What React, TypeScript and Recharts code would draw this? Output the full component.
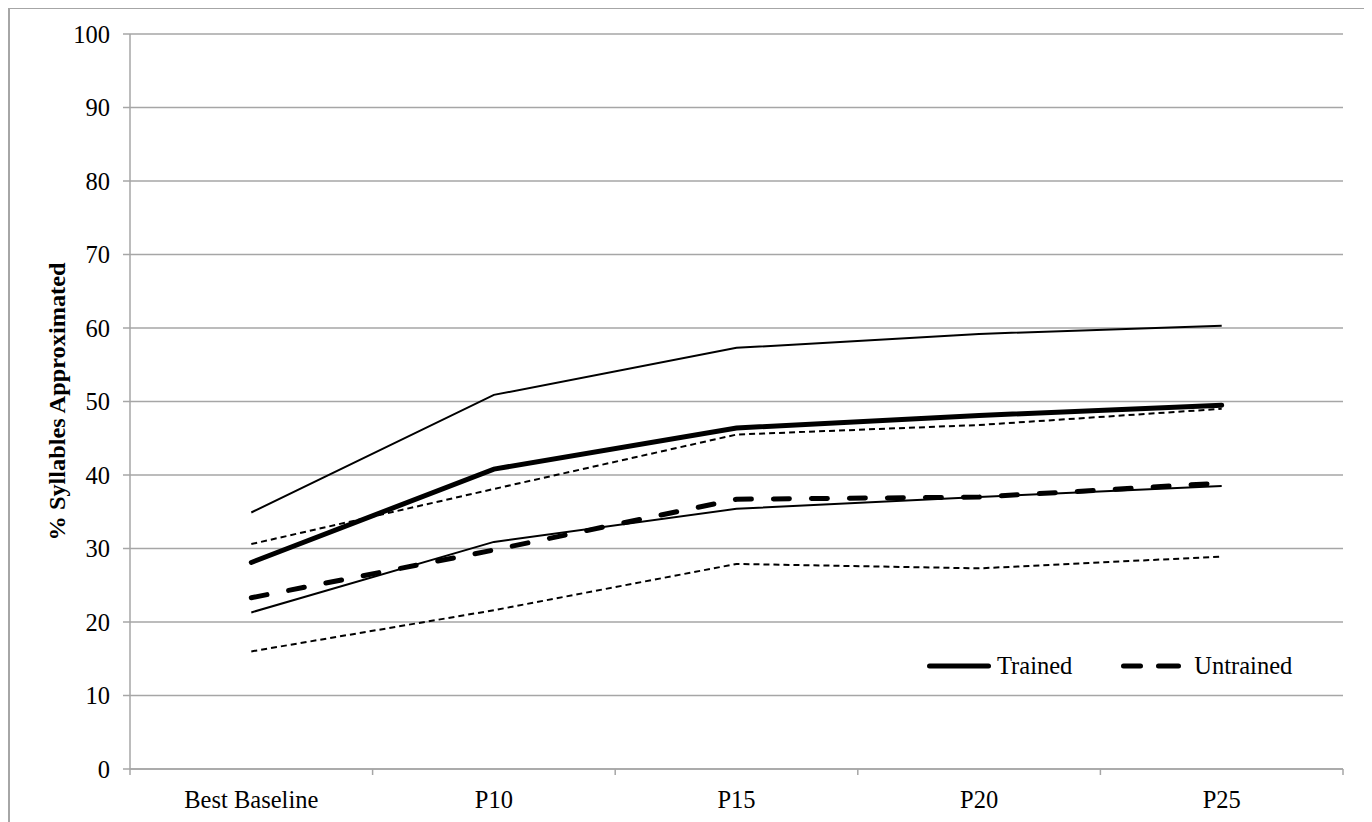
import {
  ComposedChart,
  Line,
  XAxis,
  YAxis,
  CartesianGrid,
  Legend,
} from "recharts";

const categories = ["Best Baseline", "P10", "P15", "P20", "P25"];
const trainedMean = [28.1, 40.8, 46.4, 48.1, 49.5];
const trainedUpper = [34.9, 50.9, 57.3, 59.2, 60.3];
const trainedLower = [21.3, 30.9, 35.4, 37.0, 38.5];
const untrainedMean = [23.3, 29.8, 36.7, 37.0, 38.9];
const untrainedUpper = [30.6, 38.1, 45.5, 46.8, 49.0];
const untrainedLower = [16.0, 21.6, 27.9, 27.3, 28.9];
const yTicks = [0, 10, 20, 30, 40, 50, 60, 70, 80, 90, 100];

const data = categories.map((name, i) => ({
  name,
  trainedMean: trainedMean[i],
  trainedUpper: trainedUpper[i],
  trainedLower: trainedLower[i],
  untrainedMean: untrainedMean[i],
  untrainedUpper: untrainedUpper[i],
  untrainedLower: untrainedLower[i],
}));

const FONT = "'Liberation Serif', 'Times New Roman', serif";
const GRID = "#a6a6a6";
const FS = 24.5;

// chart box
const W = 1357;
const H = 813;
const margin = { top: 25, right: 24, bottom: 0, left: 0 };
const Y_AXIS_W = 120;
const X_AXIS_H = 53;
const PLOT_W = W - margin.left - margin.right - Y_AXIS_W;
const HALF_BAND = PLOT_W / categories.length / 2;
const X_LABEL_GAP = 22;

// category label plus the tick marks at the band edges
function XTick(props: any) {
  const { x, y, payload, index } = props;
  const axisY = y - X_LABEL_GAP;
  return (
    <g>
      <line x1={x - HALF_BAND} x2={x - HALF_BAND} y1={axisY} y2={axisY + 6} stroke={GRID} strokeWidth={1.5} />
      {index === categories.length - 1 && (
        <line x1={x + HALF_BAND} x2={x + HALF_BAND} y1={axisY} y2={axisY + 6} stroke={GRID} strokeWidth={1.5} />
      )}
      <text x={x} y={y} dy="0.71em" textAnchor="middle" style={{ fontSize: FS, fontFamily: FONT }} fill="#000">
        {payload.value}
      </text>
    </g>
  );
}

function YTick(props: any) {
  const { x, y, payload } = props;
  return (
    <text x={x} y={y} dy="0.35em" textAnchor="end" style={{ fontSize: FS, fontFamily: FONT }} fill="#000">
      {payload.value}
    </text>
  );
}

function YLabel(props: any) {
  const { viewBox } = props;
  const cx = viewBox.x + 47;
  const cy = viewBox.y + viewBox.height / 2;
  return (
    <text
      x={cx}
      y={cy}
      transform={`rotate(-90 ${cx} ${cy})`}
      textAnchor="middle"
      dominantBaseline="central"
      style={{ fontSize: 23, fontWeight: "bold", fontFamily: FONT }}
      textLength={278}
      lengthAdjust="spacingAndGlyphs"
      fill="#000"
    >
      % Syllables Approximated
    </text>
  );
}

function LegendContent() {
  return (
    <div style={{ display: "flex", alignItems: "center", fontFamily: FONT, fontSize: FS, color: "#000" }}>
      <svg width={64} height={10}>
        <line x1={2.5} x2={61.5} y1={5} y2={5} stroke="#000" strokeWidth={5} strokeLinecap="round" />
      </svg>
      <span style={{ marginLeft: 6 }}>Trained</span>
      <svg width={62} height={10} style={{ marginLeft: 49 }}>
        <line x1={2.5} x2={59.5} y1={5} y2={5} stroke="#000" strokeWidth={5} strokeLinecap="round" strokeDasharray="17 18 20 18" />
      </svg>
      <span style={{ marginLeft: 11 }}>Untrained</span>
    </div>
  );
}

export default function App() {
  return (
    <div
      style={{
        position: "relative",
        marginTop: -1,
        width: W + 4,
        height: H + 2,
        border: `2px solid ${GRID}`,
        borderBottom: "none",
        boxSizing: "border-box",
        background: "#fff",
        fontFamily: FONT,
      }}
    >
      <style>{"body{overflow:hidden}"}</style>
      <ComposedChart width={W} height={H} data={data} margin={margin} style={{ fontFamily: FONT }}>
        <CartesianGrid vertical={false} stroke={GRID} strokeWidth={1.5} />
        <XAxis
          dataKey="name"
          scale="band"
          height={X_AXIS_H}
          axisLine={{ stroke: GRID, strokeWidth: 1.5 }}
          tickLine={false}
          tickSize={0}
          tickMargin={X_LABEL_GAP}
          tick={<XTick />}
          interval={0}
        />
        <YAxis
          width={Y_AXIS_W}
          domain={[0, 100]}
          ticks={yTicks}
          interval={0}
          axisLine={{ stroke: GRID, strokeWidth: 1.5 }}
          tickLine={{ stroke: GRID, strokeWidth: 1.5 }}
          tickSize={7}
          tickMargin={13}
          tick={<YTick />}
          label={<YLabel />}
        />
        <Legend
          layout="horizontal"
          verticalAlign="middle"
          align="center"
          content={<LegendContent />}
          wrapperStyle={{ position: "absolute", left: 917, top: 643, width: 420 }}
        />
        <Line dataKey="untrainedLower" stroke="#000" strokeWidth={2} strokeDasharray="6 4" dot={false} isAnimationActive={false} />
        <Line dataKey="untrainedUpper" stroke="#000" strokeWidth={2} strokeDasharray="6 4" dot={false} isAnimationActive={false} />
        <Line dataKey="trainedLower" stroke="#000" strokeWidth={2} dot={false} isAnimationActive={false} />
        <Line dataKey="trainedUpper" stroke="#000" strokeWidth={2} dot={false} isAnimationActive={false} />
        <Line
          dataKey="untrainedMean"
          stroke="#000"
          strokeWidth={5}
          strokeDasharray="16 22"
          strokeLinecap="round"
          dot={false}
          isAnimationActive={false}
        />
        <Line dataKey="trainedMean" stroke="#000" strokeWidth={5} strokeLinecap="round" dot={false} isAnimationActive={false} />
      </ComposedChart>
    </div>
  );
}
